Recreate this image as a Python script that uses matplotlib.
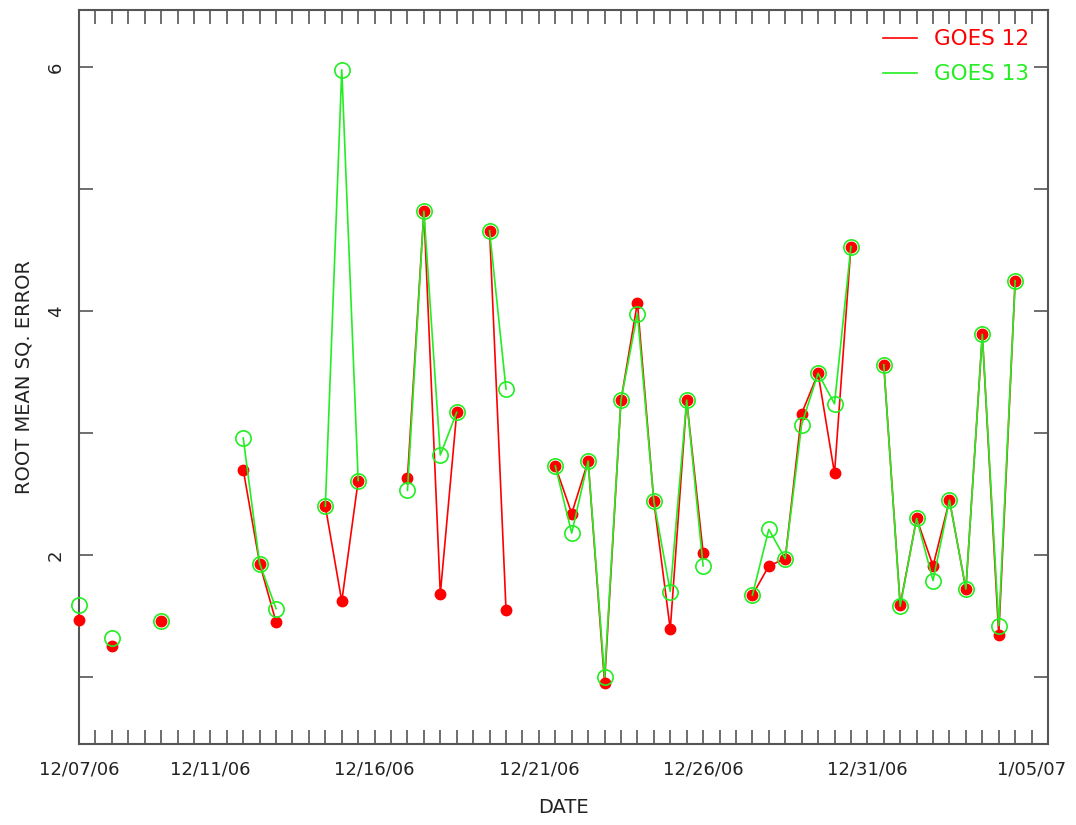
import datetime as dt

import matplotlib
matplotlib.use("Agg")
import matplotlib.pyplot as plt
import matplotlib.dates as mdates
from matplotlib.lines import Line2D
from matplotlib.ticker import FuncFormatter
import numpy as np

# Days since 12/07/06 00:00 (half-day samples)
days = [0, 1, 2.5, 5, 5.5, 6, 7.5, 8, 8.5, 10, 10.5, 11, 11.5, 12.5, 13,
        14.5, 15, 15.5, 16, 16.5, 17, 17.5, 18, 18.5, 19, 20.5, 21, 21.5,
        22, 22.5, 23, 23.5, 24.5, 25, 25.5, 26, 26.5, 27, 27.5, 28, 28.5]

goes12 = [1.47, 1.25, 1.46, 2.70, 1.93, 1.45, 2.40, 1.62, 2.61, 2.63, 4.82,
          1.68, 3.17, 4.66, 1.55, 2.73, 2.34, 2.77, 0.95, 3.27, 4.07, 2.44,
          1.39, 3.27, 2.02, 1.67, 1.91, 1.97, 3.16, 3.49, 2.67, 4.53, 3.56,
          1.59, 2.30, 1.91, 2.45, 1.72, 3.81, 1.34, 4.25]

goes13 = [1.59, 1.32, 1.46, 2.96, 1.93, 1.56, 2.40, 5.98, 2.61, 2.53, 4.82,
          2.82, 3.17, 4.66, 3.36, 2.73, 2.18, 2.77, 1.00, 3.27, 3.98, 2.44,
          1.70, 3.27, 1.91, 1.67, 2.21, 1.97, 3.07, 3.49, 3.24, 4.53, 3.56,
          1.58, 2.30, 1.79, 2.45, 1.72, 3.81, 1.42, 4.25]

start = dt.datetime(2006, 12, 7)
RED = "#ff0000"
GREEN = "#22ee22"
AXC = "#555555"


def with_breaks(d, v):
    # insert NaN where samples are more than half a day apart
    xs, ys = [], []
    for i in range(len(d)):
        if i > 0 and d[i] - d[i - 1] > 0.5:
            xs.append(start + dt.timedelta(days=(d[i] + d[i - 1]) / 2))
            ys.append(np.nan)
        xs.append(start + dt.timedelta(days=d[i]))
        ys.append(v[i])
    return xs, ys


fig = plt.figure(figsize=(10.76, 8.25), dpi=100)
ax = fig.add_axes([0.0734, 0.0982, 0.9006, 0.8897])

x12, y12 = with_breaks(days, goes12)
x13, y13 = with_breaks(days, goes13)
ax.plot(x12, y12, color=RED, lw=1.2, marker="o", ms=7.5, mfc=RED, mec=RED,
        clip_on=False, zorder=3)
ax.plot(x13, y13, color=GREEN, lw=1.2, marker="o", ms=11, mfc="none",
        mec=GREEN, mew=1.2, clip_on=False, zorder=4)

ax.set_xlim(start, start + dt.timedelta(days=29.5))
ax.set_ylim(0.45, 6.47)

ax.xaxis.set_major_locator(mdates.DayLocator(bymonthday=[7, 11, 16, 21, 26, 31, 5]))
ax.xaxis.set_minor_locator(mdates.HourLocator(byhour=[0, 12]))
ax.xaxis.set_major_formatter(FuncFormatter(
    lambda v, p: "{}/{:02d}/{:02d}".format(mdates.num2date(v).month,
                                          mdates.num2date(v).day,
                                          mdates.num2date(v).year % 100)))
ax.set_yticks([2, 4, 6])
ax.set_yticks([1, 3, 5], minor=True)

ax.tick_params(which="both", direction="in", length=10, width=1.2, color=AXC,
               top=True, right=True, labelsize=13, colors="#222222")
ax.tick_params(axis="x", pad=12)
ax.tick_params(axis="y", pad=10)
for t in ax.get_yticklabels():
    t.set_rotation(90)
    t.set_va("center")
for s in ax.spines.values():
    s.set_color(AXC)
    s.set_linewidth(1.5)

ax.set_xlabel("DATE", fontsize=14, color="#222222", labelpad=14)
ax.set_ylabel("ROOT MEAN SQ. ERROR", fontsize=14, color="#222222", labelpad=10)

handles = [Line2D([], [], color=RED, lw=1.2), Line2D([], [], color=GREEN, lw=1.2)]
leg = ax.legend(handles, ["GOES 12", "GOES 13"], loc="upper right",
                frameon=False, fontsize=15.5, handlelength=1.6,
                handletextpad=0.75, labelspacing=0.7, borderaxespad=0.5,
                labelcolor="linecolor")

fig.savefig("out.png", dpi=100)
